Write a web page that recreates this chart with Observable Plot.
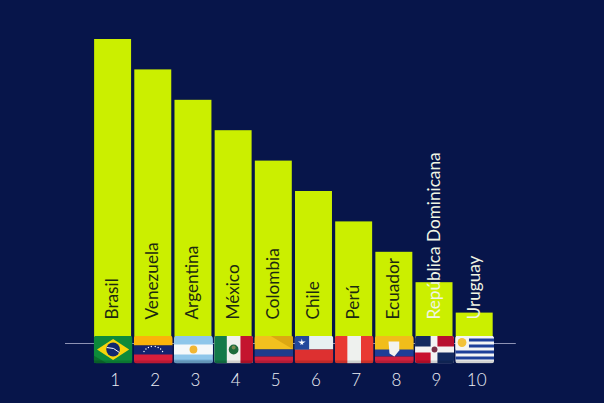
<!DOCTYPE html>
<html><head><meta charset="utf-8">
<script src="https://cdn.jsdelivr.net/npm/d3@7"></script>
<script src="https://cdn.jsdelivr.net/npm/@observablehq/plot@0.6"></script>
<style>html,body{margin:0;padding:0;background:#07154a;overflow:hidden}svg{display:block}</style>
</head><body><div id="c"></div>
<script>
const countries = ["Brasil","Venezuela","Argentina","México","Colombia","Chile","Perú","Ecuador","República Dominicana","Uruguay"];
const ranks = [1,2,3,4,5,6,7,8,9,10];
const scores = [10,9,8,7,6,5,4,3,2,1];
const labelColors = ["#1c2a10","#1c2a10","#1c2a10","#1c2a10","#1c2a10","#1c2a10","#1c2a10","#1c2a10","#f1f5e4","#f1f5e4"];

const tile = inner => "data:image/svg+xml;utf8," + encodeURIComponent(
 `<svg xmlns="http://www.w3.org/2000/svg" width="120" height="84" viewBox="0 0 40 28"><defs><clipPath id="r"><rect width="40" height="28" rx="3.5"/></clipPath></defs><g clip-path="url(#r)">${inner}<rect y="25" width="40" height="3" fill="#000" opacity=".14"/></g></svg>`);
const flagArt = [
 `<rect width="40" height="28" fill="#0d8a3a"/><path d="M0 28V20L14 28Z" fill="#0a6f2e"/><path d="M20 3.5L36.5 14L20 24.5L3.5 14Z" fill="#f6d50c"/><circle cx="20" cy="14" r="7" fill="#12276e"/><path d="M13.5 12Q21 11.5 26.5 17" stroke="#fff" stroke-width="1" fill="none"/>`,
 `<rect width="40" height="10" fill="#fbb30a"/><rect y="10" width="40" height="10" fill="#14236e"/><rect y="19" width="40" height="10" fill="#d81e3c"/><g fill="#fff"><circle cx="10.500" cy="16" r=".7"/><circle cx="12.500" cy="13.500" r=".7"/><circle cx="15" cy="12" r=".7"/><circle cx="18" cy="11" r=".7"/><circle cx="22" cy="11" r=".7"/><circle cx="25" cy="12" r=".7"/><circle cx="27.500" cy="13.500" r=".7"/><circle cx="29.500" cy="16" r=".7"/></g>`,
 `<rect width="40" height="28" fill="#8ec6ea"/><rect y="9" width="40" height="10" fill="#f5f8fa"/><rect y="24" width="40" height="4" fill="#74aed6"/><circle cx="20" cy="14" r="4" fill="#f2b632"/>`,
 `<rect width="40" height="28" fill="#f1f1ee"/><rect width="13" height="28" fill="#137a4a"/><rect x="27" width="13" height="28" fill="#c4142e"/><circle cx="20" cy="14" r="5" fill="#1f6b3c"/><circle cx="20" cy="12" r="2" fill="#7c8a50"/>`,
 `<rect width="40" height="14" fill="#f2c01e"/><path d="M16 0H40V14Z" fill="#dca812"/><rect y="14" width="40" height="7" fill="#1f3c8c"/><rect y="21" width="40" height="7" fill="#d0203f"/>`,
 `<rect width="40" height="14" fill="#e7f0f2"/><rect y="14" width="40" height="14" fill="#dd3030"/><rect width="15" height="14" fill="#23489c"/><path d="M7.500 3L9 9.500L3.500 6H11.500L6 9.500Z" fill="#fff"/>`,
 `<rect width="40" height="28" fill="#e93a32"/><rect x="13" width="14" height="28" fill="#eef1ee"/>`,
 `<rect width="40" height="15" fill="#f1bd1a"/><rect y="14" width="40" height="7" fill="#1f3e96"/><rect y="21" width="40" height="7" fill="#d3213f"/><path d="M14 6H25V15L20 21L15 18Z" fill="#f2f3f0"/>`,
 `<rect width="40" height="28" fill="#f3f3f3"/><rect width="16" height="11" fill="#12295f"/><rect x="23" y="17" width="17" height="11" fill="#12295f"/><rect x="23" width="17" height="11" fill="#b8102f"/><rect y="17" width="16" height="11" fill="#c8102e"/><circle cx="20" cy="14" r="3" fill="#7a3048"/>`,
 `<rect width="40" height="28" fill="#f4f5f4"/><g fill="#1d3f99"><rect x="14" y="3" width="26" height="3"/><rect x="14" y="9" width="26" height="3"/><rect y="15" width="40" height="3"/><rect y="21" width="40" height="3"/></g><rect width="14" height="14" fill="#f4f5f4"/><circle cx="7" cy="7" r="4.500" fill="#f2c23a"/>`
].map(tile);

const rows = ranks.map((r,i)=>({rank:r, score:scores[i], country:countries[i], color:labelColors[i], flag:flagArt[i]}));

const chart = Plot.plot({
  width:604, height:403,
  marginLeft:90.9, marginRight:108.1, marginTop:39, marginBottom:60,
  style:{background:"#07154a", fontFamily:"Lato, sans-serif"},
  x:{type:"band", domain:ranks, padding:0.08, round:false, label:null},
  y:{domain:[0,10], axis:null},
  marks:[
    Plot.barY(rows,{x:"rank", y:"score", fill:"#cbef00"}),
    Plot.ruleY([0],{stroke:"#8d92b4", strokeWidth:1.2, insetLeft:-25.9, insetRight:-19.9}),
    Plot.image(rows,{x:"rank", y:()=>0, src:"flag", width:39, height:28, dy:6, preserveAspectRatio:"none"}),
    Plot.text(rows,{x:"rank", y:()=>0, text:"country", rotate:-90, textAnchor:"start", lineAnchor:"middle", dy:-24, dx:-0.5, fill:"color", fontSize:17.2}),
    Plot.axisX({tickSize:0, tickPadding:30, fontSize:17, fill:"#eef0f6", dx:2, label:null, fontWeight:300})
  ]
});
document.getElementById("c").append(chart);
</script></body></html>
